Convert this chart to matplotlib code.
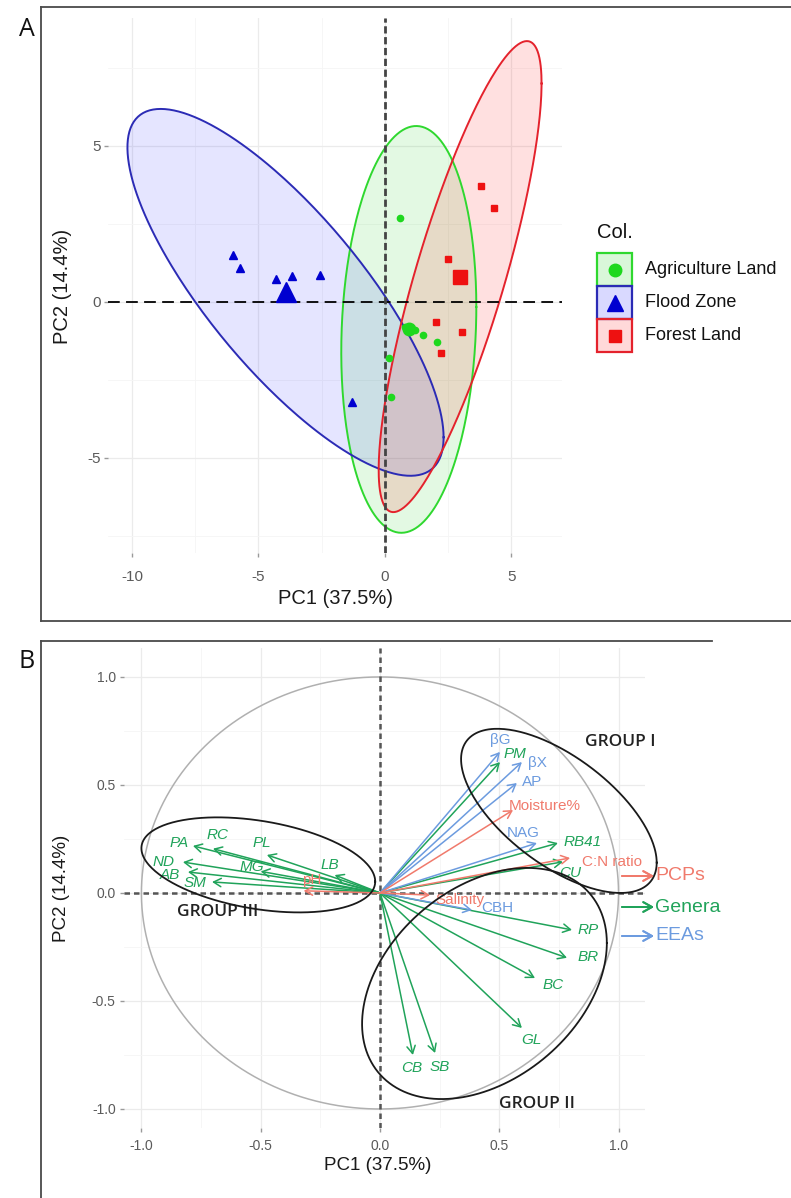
import numpy as np
import matplotlib.pyplot as plt
from matplotlib.lines import Line2D
from matplotlib.patches import Rectangle

plt.rcParams['font.family'] = ['Liberation Sans', 'DejaVu Sans']
plt.rcParams['axes.unicode_minus'] = False

# ---- panel A: PCA individuals, by land use ----
agri_x = [0.59, 0.80, 1.00, 1.20, 1.50, 2.05, 0.15, 0.25]
agri_y = [2.69, -0.80, -0.85, -0.90, -1.05, -1.30, -1.80, -3.05]
flood_x = [-6.00, -5.73, -4.31, -3.68, -2.57, -1.30]
flood_y = [1.50, 1.09, 0.74, 0.83, 0.87, -3.20]
forest_x = [3.79, 4.31, 2.49, 2.00, 3.04, 2.20]
forest_y = [3.72, 3.00, 1.37, -0.64, -0.96, -1.63]

groups = ['Agriculture Land', 'Flood Zone', 'Forest Land']
# confidence ellipses: half extents on PC1 / PC2 and their correlation
ell_rx = [2.67, 6.25, 3.22]
ell_ry = [6.52, 5.88, 7.55]
ell_rho = [0.11, -0.79, 0.82]

# ---- panel B: variable loadings ----
var_names = ['PA', 'RC', 'PL', 'MG', 'LB', 'ND', 'AB', 'SM', 'PM', 'RB41', 'CU',
             'RP', 'BR', 'BC', 'GL', 'CB', 'SB',
             'βG', 'βX', 'AP', 'NAG', 'CBH',
             'Moisture%', 'C:N ratio', 'pH', 'Salinity']
var_type = ['Genera'] * 17 + ['EEAs'] * 5 + ['PCPs'] * 4
var_pc1 = [-0.784, -0.70, -0.474, -0.50, -0.19, -0.826, -0.805, -0.704, 0.503, 0.746, 0.767,
           0.805, 0.784, 0.65, 0.595, 0.138, 0.231,
           0.503, 0.595, 0.574, 0.658, 0.386,
           0.558, 0.797, -0.32, 0.21]
var_pc2 = [0.218, 0.205, 0.176, 0.10, 0.083, 0.143, 0.097, 0.051, 0.606, 0.231, 0.144,
           -0.171, -0.30, -0.394, -0.625, -0.75, -0.741,
           0.653, 0.606, 0.509, 0.231, -0.079,
           0.384, 0.162, 0.01, -0.01]

group_names = ['GROUP I', 'GROUP II', 'GROUP III']
grp_cx = [0.75, 0.438, -0.51]
grp_cy = [0.38, -0.419, 0.13]
grp_rx = [0.41, 0.513, 0.49]
grp_ry = [0.38, 0.535, 0.22]
grp_rho = [-0.63, 0.35, -0.35]

W, H = 791, 1198


def fx(px):
    return px / W


def fy(py):
    return 1 - py / H


def ellipse_xy(cx, cy, rx, ry, rho, n=300):
    t = np.linspace(0, 2 * np.pi, n)
    d = np.arccos(rho)
    return cx + rx * np.cos(t), cy + ry * np.cos(t - d)


def style_axes(ax, major_x, minor_x, major_y, minor_y, fmt):
    for s in ax.spines.values():
        s.set_visible(False)
    ax.set_xticks(major_x)
    ax.set_yticks(major_y)
    ax.set_xticklabels([fmt(v) for v in major_x])
    ax.set_yticklabels([fmt(v) for v in major_y])
    ax.set_xticks(minor_x, minor=True)
    ax.set_yticks(minor_y, minor=True)
    ax.grid(True, which='major', color='#EBEBEB', lw=0.9)
    ax.grid(True, which='minor', color='#F5F5F5', lw=0.6)
    ax.set_axisbelow(True)
    ax.tick_params(which='minor', length=0)


fig = plt.figure(figsize=(W / 100, H / 100), dpi=100)

# ---------------- panel A ----------------
axA = fig.add_axes([fx(108), fy(553), (562 - 108) / W, (553 - 18) / H])
axA.set_xlim(-10.95, 7.0)
axA.set_ylim(-8.05, 9.1)
style_axes(axA, [-10, -5, 0, 5], [-7.5, -2.5, 2.5], [-5, 0, 5], [-7.5, -2.5, 2.5, 7.5],
           lambda v: '%d' % v)
axA.tick_params(which='major', length=3, width=1, color='#9A9A9A', labelcolor='#5A5A5A',
                labelsize=11)
axA.tick_params(axis='x', pad=9)
axA.tick_params(axis='y', pad=2)

pts = [(agri_x, agri_y), (flood_x, flood_y), (forest_x, forest_y)]
line_cols = ['#2FD82F', '#2B2BB5', '#E4222C']
fill_cols = ['#00CC00', '#0000FF', '#FF0000']
fill_alpha = [0.11, 0.10, 0.12]
mk_cols = ['#1ED81E', '#0000D0', '#EE1111']
mk = ['o', '^', 's']
mk_small = [4.5, 6, 5]
mk_big = [9, 15, 9.5]

for i in range(3):
    x, y = pts[i]
    cx, cy = np.mean(x), np.mean(y)
    ex, ey = ellipse_xy(cx, cy, ell_rx[i], ell_ry[i], ell_rho[i])
    axA.fill(ex, ey, color=fill_cols[i], alpha=fill_alpha[i], lw=0, zorder=1)
    axA.plot(ex, ey, color=line_cols[i], lw=1.4, zorder=2)

axA.axhline(0, color='black', lw=1.3, ls=(0, (6.5, 3.5)), zorder=3)
axA.axvline(0, color='#444444', lw=2.0, ls=(0, (2.6, 1.3)), zorder=3)

for i in range(3):
    x, y = pts[i]
    axA.plot(x, y, ls='none', marker=mk[i], ms=mk_small[i], color=mk_cols[i], zorder=4)
    axA.plot(np.mean(x), np.mean(y), ls='none', marker=mk[i], ms=mk_big[i],
             color=mk_cols[i], zorder=5)

# legend of panel A, drawn as ggplot-like key boxes
fig.text(fx(597), fy(233), 'Col.', fontsize=14.5, color='#111111', ha='left', va='center')
leg_ms = [9, 11, 8.5]
key_w, key_h = 35, 33
for i, name in enumerate(groups):
    top = 253 + i * key_h
    fig.add_artist(Rectangle((fx(597), fy(top + key_h)), key_w / W, key_h / H,
                             transform=fig.transFigure, facecolor=fill_cols[i],
                             alpha=0.15, lw=0))
    fig.add_artist(Rectangle((fx(597), fy(top + key_h)), key_w / W, key_h / H,
                             transform=fig.transFigure, facecolor='none',
                             edgecolor=line_cols[i], lw=1.6))
    fig.add_artist(Line2D([fx(597 + key_w / 2)], [fy(top + key_h / 2)],
                          transform=fig.transFigure, ls='none', marker=mk[i],
                          ms=leg_ms[i], color=mk_cols[i]))
    fig.text(fx(645), fy(top + key_h / 2), name, fontsize=13, color='#111111',
             ha='left', va='center')

fig.text(fx(335), fy(598), 'PC1 (37.5%)', fontsize=14.5, color='#1A1A1A',
         ha='center', va='center')
fig.text(fx(62), fy(286), 'PC2 (14.4%)', fontsize=14.5, color='#1A1A1A',
         ha='center', va='center', rotation=90)

# ---------------- panel B ----------------
axB = fig.add_axes([fx(124), fy(1128), (645 - 124) / W, (1128 - 648) / H])
axB.set_xlim(-1.073, 1.111)
axB.set_ylim(-1.088, 1.134)
style_axes(axB, [-1, -0.5, 0, 0.5, 1], [-0.75, -0.25, 0.25, 0.75],
           [-1, -0.5, 0, 0.5, 1], [-0.75, -0.25, 0.25, 0.75], lambda v: '%.1f' % v)
axB.tick_params(which='major', length=3, width=1, color='#9A9A9A', labelcolor='#5A5A5A',
                labelsize=10)
axB.tick_params(axis='x', pad=5)
axB.tick_params(axis='y', pad=3)

t = np.linspace(0, 2 * np.pi, 400)
axB.plot(np.cos(t), np.sin(t), color='#B0B0B0', lw=1.1, zorder=1)
axB.axhline(0, color='#555555', lw=1.8, ls=(0, (2.2, 1.6)), zorder=2)
axB.axvline(0, color='#555555', lw=1.8, ls=(0, (2.2, 1.6)), zorder=2)

type_cols = {'PCPs': '#F07A6C', 'Genera': '#20A35A', 'EEAs': '#6C9BDF'}
label_off = [(-14, 3), (5, 14), (-5, 12), (-9, 4), (-5, 10), (-19, 0), (-18, -3), (-17, -1),
             (15, 8), (25, 1), (7, -11), (16, 0), (21, 1), (18, -7), (10, -12), (-1, -13),
             (5, -14), (0, 12), (16, -1), (15, 1), (-14, 10), (25, 2),
             (32, 4), (42, -4), (8, 11), (30, -5)]
arrow_style = '->,head_length=0.45,head_width=0.25'
for name, kind, x, y, off in zip(var_names, var_type, var_pc1, var_pc2, label_off):
    c = type_cols[kind]
    axB.annotate('', xy=(x, y), xytext=(0, 0),
                 arrowprops=dict(arrowstyle=arrow_style, color=c, lw=1.1,
                                 shrinkA=0, shrinkB=0, mutation_scale=12), zorder=3)
    axB.annotate(name, xy=(x, y), xytext=off, textcoords='offset pixels',
                 ha='center', va='center', fontsize=11, color=c,
                 style='italic' if kind == 'Genera' else 'normal', zorder=4)

for i in range(3):
    ex, ey = ellipse_xy(grp_cx[i], grp_cy[i], grp_rx[i], grp_ry[i], grp_rho[i])
    axB.plot(ex, ey, color='#1A1A1A', lw=1.3, zorder=5, clip_on=False)

grp_lab_pos = [(1.006, 0.699), (0.658, -0.977), (-0.679, -0.088)]
for name, (gx, gy) in zip(group_names, grp_lab_pos):
    axB.text(gx, gy, name, fontsize=12.5, family=['Open Sans', 'DejaVu Sans'],
             weight='semibold', color='#222222', ha='center', va='center')

fig.text(fx(378), fy(1165), 'PC1 (37.5%)', fontsize=13.5, color='#1A1A1A',
         ha='center', va='center')
fig.text(fx(62), fy(888), 'PC2 (14.4%)', fontsize=13.5, color='#1A1A1A',
         ha='center', va='center', rotation=90)

# arrow legend of panel B
for kind, py in [('PCPs', 876), ('Genera', 907), ('EEAs', 936)]:
    c = type_cols[kind]
    fig.add_artist(plt.annotate('', xy=(fx(654), fy(py)), xytext=(fx(622), fy(py)),
                                xycoords='figure fraction', textcoords='figure fraction',
                                arrowprops=dict(arrowstyle=arrow_style, color=c, lw=1.4,
                                                shrinkA=0, shrinkB=0, mutation_scale=14)))
    fig.text(fx(655), fy(py), kind, fontsize=14, color=c, ha='left', va='center')

# panel frames and letters
frame = dict(color='#4A4A4A', lw=1.3, transform=fig.transFigure)
fig.add_artist(Line2D([fx(41), fx(791)], [fy(7), fy(7)], **frame))
fig.add_artist(Line2D([fx(41), fx(41)], [fy(7), fy(621)], **frame))
fig.add_artist(Line2D([fx(41), fx(791)], [fy(621), fy(621)], **frame))
fig.add_artist(Line2D([fx(41), fx(712)], [fy(641), fy(641)], **frame))
fig.add_artist(Line2D([fx(41), fx(41)], [fy(641), fy(1198)], **frame))
fig.text(fx(27), fy(29), 'A', fontsize=18, family=['Open Sans', 'DejaVu Sans'],
         ha='center', va='center', color='#111111')
fig.text(fx(27), fy(662), 'B', fontsize=18, family=['Open Sans', 'DejaVu Sans'],
         ha='center', va='center', color='#111111')

fig.savefig('out.png', dpi=100)
